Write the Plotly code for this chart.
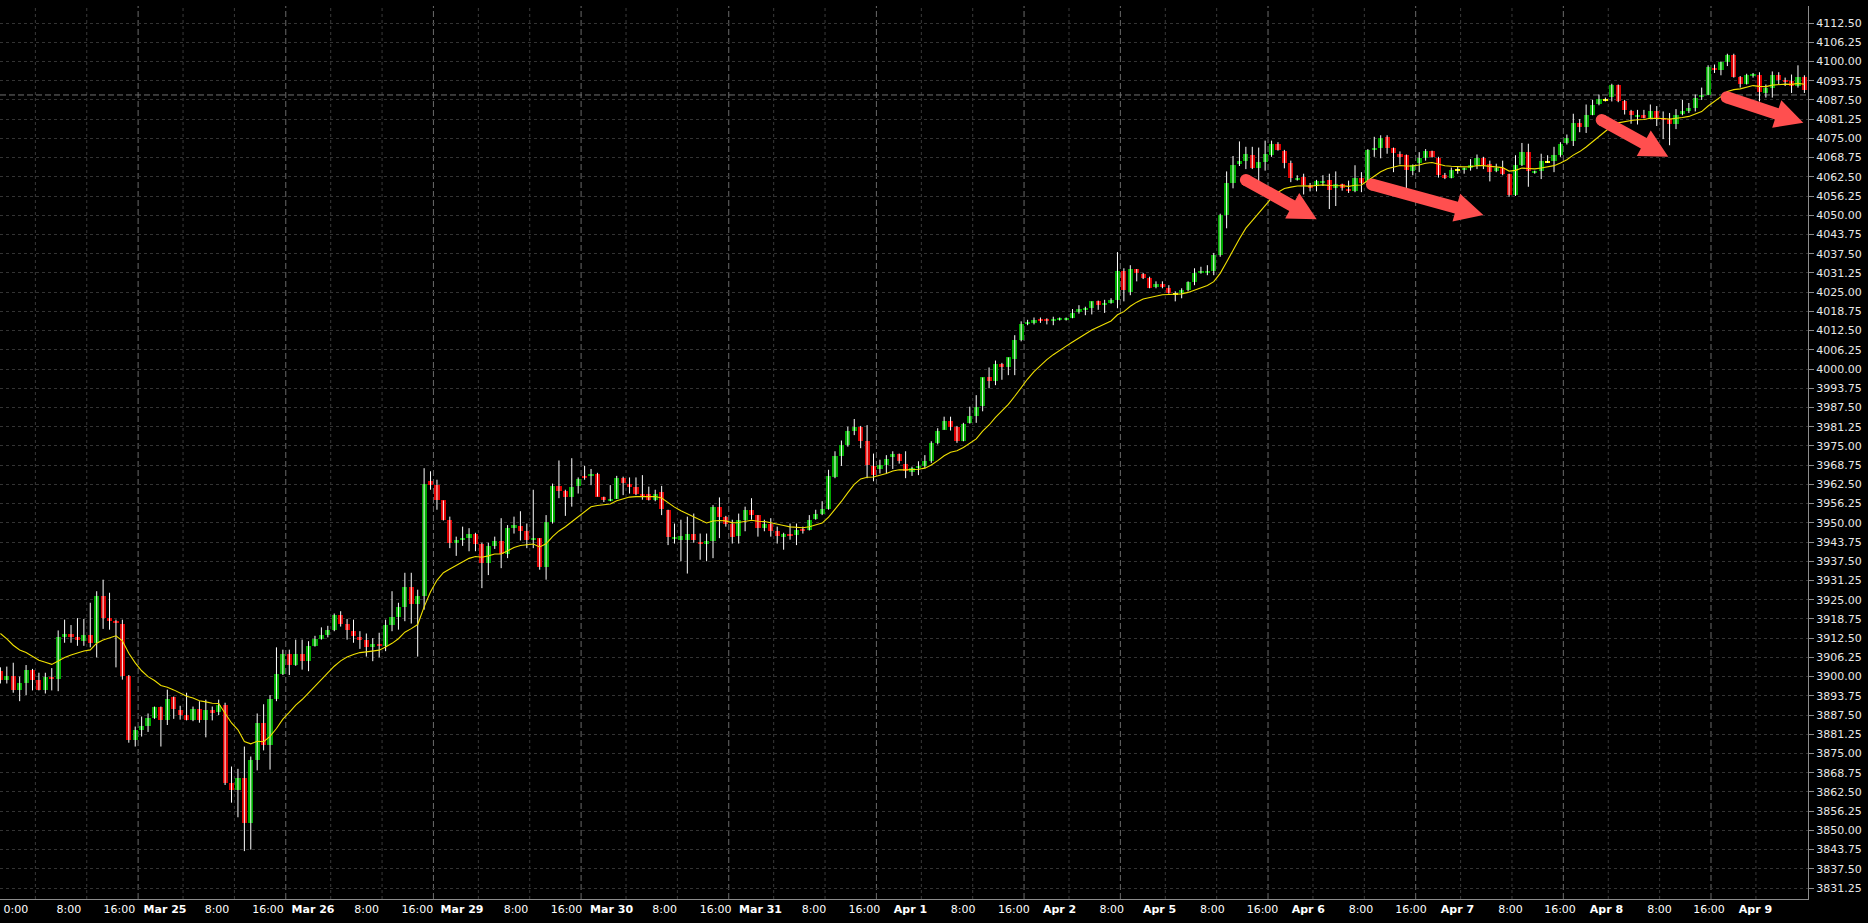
import plotly.graph_objects as go

# ---------------- data (hourly bars, E-mini style) ----------------
opens = [3901.75,3899.0,3900.25,3895.5,3897.75,3902.0,3898.75,3895.75,3900.0,3899.25,
3913.0,3914.0,3912.75,3911.5,3913.5,3911.0,3926.25,3919.0,3918.0,3917.25,
3900.25,3879.25,3882.75,3884.0,3886.5,3890.0,3885.75,3893.25,3889.25,3887.5,
3886.0,3889.5,3885.75,3889.25,3888.5,3890.75,3865.5,3863.0,3867.0,3852.5,
3872.75,3884.75,3877.75,3892.75,3901.0,3907.5,3903.75,3907.5,3905.0,3910.0,
3912.25,3913.5,3915.0,3920.0,3917.25,3914.75,3913.0,3912.0,3909.75,3910.75,
3910.0,3916.75,3919.25,3922.75,3929.25,3923.75,3926.25,3963.5,3962.25,3957.25,
3951.0,3943.5,3944.5,3945.0,3946.25,3943.25,3937.0,3942.5,3944.0,3940.0,
3948.25,3949.0,3947.25,3944.25,3945.0,3935.75,3950.25,3962.0,3960.25,3958.25,
3962.0,3965.25,3965.25,3966.0,3958.5,3957.25,3957.75,3964.5,3962.75,3961.5,
3959.5,3959.25,3957.5,3960.0,3954.25,3945.0,3944.25,3944.25,3946.5,3943.75,
3943.25,3944.0,3955.0,3952.0,3949.75,3945.75,3951.0,3954.0,3952.5,3948.25,
3949.75,3947.25,3945.5,3946.5,3946.0,3948.0,3947.75,3951.25,3953.0,3954.5,
3965.0,3971.75,3975.25,3980.0,3981.0,3976.75,3968.5,3967.5,3968.75,3971.25,
3972.25,3969.25,3966.5,3967.75,3968.5,3970.0,3976.0,3980.25,3983.0,3981.0,
3976.75,3982.5,3984.75,3988.0,3997.25,3996.0,4001.75,4000.75,4003.25,4009.5,
4014.75,4015.0,4016.0,4016.0,4015.75,4016.0,4016.0,4016.75,4018.5,4019.25,
4020.0,4022.0,4021.0,4021.5,4022.5,4031.75,4025.0,4032.5,4031.0,4029.5,
4026.75,4027.5,4026.5,4024.5,4024.75,4025.75,4028.25,4031.25,4031.5,4032.0,
4037.0,4050.0,4060.5,4066.5,4067.75,4069.5,4065.25,4067.25,4069.5,4073.0,
4071.0,4067.0,4061.75,4062.5,4059.75,4059.5,4060.75,4061.5,4058.75,4060.0,
4058.5,4058.0,4062.25,4060.75,4071.25,4071.75,4075.5,4071.75,4069.75,4069.5,
4064.5,4067.0,4068.5,4070.75,4068.75,4063.0,4062.25,4064.75,4065.0,4065.25,
4066.25,4068.5,4066.5,4064.25,4065.25,4063.25,4056.5,4066.25,4070.5,4063.75,
4064.25,4067.5,4067.75,4069.5,4073.5,4074.0,4080.0,4078.75,4082.75,4086.25,
4087.5,4088.5,4092.25,4087.0,4083.75,4082.25,4082.75,4081.75,4084.0,4081.5,
4081.25,4079.75,4083.0,4084.0,4084.75,4088.75,4089.25,4098.0,4097.25,4099.75,
4102.0,4095.0,4092.75,4095.5,4095.75,4089.75,4091.25,4095.75,4094.0,4093.75,
4092.0,4095.0]
highs = [3903.0,3903.25,3904.5,3900.0,3903.75,3902.5,3901.25,3901.25,3902.75,3915.0,
3918.5,3916.75,3919.0,3918.75,3924.0,3927.75,3931.5,3927.25,3918.5,3918.5,
3900.5,3883.75,3887.0,3888.0,3890.25,3890.25,3895.75,3893.5,3890.5,3894.75,
3890.25,3892.0,3892.5,3890.25,3892.5,3891.5,3870.75,3870.0,3877.25,3874.0,
3888.0,3891.0,3894.0,3909.5,3908.75,3908.75,3912.0,3912.0,3911.5,3913.25,
3916.0,3916.5,3920.5,3921.25,3918.75,3918.5,3914.75,3914.0,3912.5,3914.25,
3918.5,3927.75,3924.0,3933.75,3933.75,3928.25,3967.75,3966.75,3964.0,3957.25,
3952.0,3945.5,3948.75,3948.25,3946.75,3943.5,3943.5,3945.5,3951.5,3949.25,
3952.0,3953.75,3949.75,3960.75,3945.0,3952.5,3962.75,3970.25,3960.75,3971.0,
3964.75,3968.5,3967.5,3966.25,3958.5,3962.25,3965.25,3965.0,3964.75,3964.75,
3965.5,3961.75,3960.75,3962.0,3954.25,3949.75,3951.0,3952.0,3953.0,3946.5,
3946.5,3955.75,3958.25,3952.25,3951.0,3953.0,3955.25,3958.0,3952.5,3951.0,
3951.5,3948.75,3946.75,3949.75,3949.75,3948.75,3952.5,3954.25,3957.0,3967.25,
3973.25,3976.75,3981.25,3983.75,3981.5,3981.75,3972.5,3970.5,3972.0,3973.25,
3972.5,3973.25,3968.25,3970.0,3972.0,3976.5,3980.75,3984.5,3984.5,3981.5,
3982.5,3987.75,3991.5,3997.25,4000.5,4002.75,4002.0,4003.75,4011.0,4015.5,
4016.0,4016.75,4016.75,4016.5,4017.0,4016.75,4016.75,4019.5,4020.75,4020.25,
4022.0,4022.25,4022.5,4023.0,4038.0,4032.75,4033.75,4032.5,4031.25,4030.0,
4028.5,4028.5,4027.25,4025.25,4026.25,4028.5,4032.75,4033.25,4033.75,4037.75,
4050.5,4064.25,4069.25,4074.0,4072.25,4072.25,4072.0,4074.25,4074.25,4073.75,
4071.25,4067.75,4063.0,4063.5,4060.5,4061.5,4063.0,4063.5,4064.25,4060.25,
4061.25,4066.25,4064.0,4071.5,4075.5,4076.0,4076.0,4072.0,4070.75,4069.75,
4066.5,4070.5,4071.5,4071.0,4069.0,4063.75,4065.5,4065.75,4065.5,4068.25,
4069.75,4069.0,4067.75,4066.75,4067.75,4063.5,4069.5,4073.5,4073.25,4064.5,
4070.0,4069.5,4072.25,4073.75,4076.25,4083.0,4081.25,4086.0,4087.5,4089.25,
4088.25,4092.75,4092.5,4087.5,4084.25,4084.25,4084.25,4086.0,4085.5,4083.75,
4083.25,4084.5,4087.5,4086.5,4089.25,4091.5,4098.75,4099.0,4100.0,4102.5,
4102.5,4095.25,4096.0,4096.25,4096.5,4092.5,4096.75,4096.5,4094.75,4095.75,
4098.75,4095.5]
lows = [3897.75,3897.75,3894.75,3892.0,3894.0,3895.5,3895.5,3894.5,3895.5,3895.25,
3911.0,3911.0,3910.0,3910.0,3909.5,3906.25,3915.5,3915.25,3903.0,3899.0,
3878.5,3877.25,3880.5,3882.0,3886.25,3877.25,3884.25,3886.25,3886.0,3885.75,
3885.5,3885.0,3880.25,3885.75,3887.5,3864.75,3859.0,3854.25,3843.25,3843.75,
3869.5,3876.0,3869.75,3892.0,3900.5,3900.5,3903.5,3902.25,3901.75,3909.75,
3912.0,3912.75,3914.75,3916.25,3912.0,3911.0,3909.0,3906.5,3905.0,3906.25,
3908.25,3914.75,3915.25,3918.0,3917.25,3906.5,3921.75,3960.75,3954.25,3950.75,
3941.75,3939.25,3942.5,3940.75,3940.75,3928.75,3933.0,3941.5,3935.25,3938.5,
3946.5,3944.25,3941.75,3941.75,3934.75,3931.5,3949.75,3958.0,3952.25,3955.25,
3959.5,3964.0,3962.25,3958.5,3956.75,3957.0,3957.75,3959.0,3959.5,3959.0,
3957.5,3957.25,3957.0,3952.5,3942.75,3943.25,3937.5,3933.5,3943.5,3938.0,
3937.5,3938.5,3945.0,3948.75,3943.25,3943.25,3947.25,3951.0,3945.5,3947.25,
3945.5,3943.25,3941.25,3944.5,3942.75,3946.5,3947.5,3951.0,3952.5,3954.25,
3964.5,3968.5,3974.75,3978.5,3974.25,3964.5,3963.5,3966.0,3966.0,3967.5,
3969.25,3964.5,3965.25,3965.5,3967.75,3969.5,3975.5,3980.25,3980.0,3976.0,
3976.5,3982.25,3982.5,3986.25,3993.75,3994.75,3996.5,3998.0,3998.0,4009.0,
4014.25,4014.5,4015.0,4014.5,4014.25,4015.75,4015.75,4016.5,4018.0,4017.5,
4017.75,4019.25,4018.25,4021.25,4019.75,4022.0,4024.0,4028.5,4029.25,4026.25,
4026.25,4026.25,4024.5,4022.0,4023.0,4025.25,4027.25,4031.0,4030.5,4030.5,
4036.5,4045.75,4058.75,4066.0,4065.0,4065.0,4060.75,4064.5,4069.0,4071.0,
4065.25,4060.75,4061.25,4056.75,4057.75,4057.75,4059.5,4052.0,4053.0,4058.0,
4057.25,4057.5,4057.5,4060.5,4069.0,4068.5,4070.0,4064.0,4066.5,4057.75,
4063.0,4064.0,4067.75,4068.75,4062.25,4061.75,4062.0,4063.5,4063.5,4064.5,
4065.0,4065.0,4061.0,4064.0,4063.0,4056.0,4056.25,4066.0,4059.25,4063.5,
4061.75,4067.0,4064.0,4069.0,4073.0,4072.5,4077.0,4076.75,4082.5,4085.75,
4087.0,4087.0,4086.75,4082.75,4079.75,4079.5,4081.5,4081.25,4079.0,4074.75,
4072.75,4078.0,4082.5,4083.25,4083.75,4087.5,4089.0,4096.25,4095.5,4098.5,
4094.75,4091.5,4092.5,4094.75,4087.0,4088.25,4088.25,4092.5,4092.0,4089.75,
4091.5,4089.75]
closes = [3898.75,3900.25,3895.5,3897.75,3902.0,3898.75,3895.75,3900.0,3899.25,3912.75,
3914.0,3912.75,3911.75,3913.5,3911.0,3926.25,3919.0,3918.0,3917.5,3900.25,
3879.25,3882.5,3884.0,3886.5,3890.0,3885.75,3892.75,3889.5,3887.5,3886.0,
3889.5,3885.75,3889.25,3888.25,3890.75,3865.5,3863.0,3867.0,3852.5,3872.75,
3884.75,3877.75,3892.75,3901.0,3907.5,3903.75,3907.5,3905.0,3910.0,3912.25,
3913.5,3915.0,3920.0,3917.25,3915.0,3913.25,3912.0,3909.75,3910.75,3910.0,
3916.75,3919.25,3922.75,3929.25,3923.75,3926.25,3962.75,3962.25,3957.25,3951.0,
3943.5,3944.5,3945.0,3946.5,3943.25,3937.0,3942.5,3944.0,3940.0,3948.25,
3949.25,3947.25,3944.25,3945.0,3935.5,3950.25,3962.0,3960.25,3958.25,3961.75,
3964.25,3964.75,3966.0,3958.5,3957.5,3957.75,3964.5,3963.0,3961.75,3959.5,
3959.0,3957.5,3959.5,3954.5,3945.25,3945.5,3945.75,3946.25,3944.25,3943.25,
3944.0,3955.0,3952.0,3949.75,3945.5,3950.75,3954.0,3952.5,3948.25,3949.75,
3947.25,3945.75,3946.5,3945.75,3947.75,3947.25,3951.0,3953.0,3954.5,3965.25,
3971.75,3975.25,3980.0,3981.0,3976.75,3968.75,3965.5,3968.75,3970.75,3972.25,
3970.0,3967.0,3967.75,3968.5,3970.25,3976.0,3980.0,3983.0,3981.0,3976.75,
3982.0,3984.75,3987.75,3997.25,3996.0,4001.75,4000.75,4003.75,4009.5,4014.75,
4015.25,4016.0,4015.75,4015.75,4016.0,4016.5,4016.5,4018.25,4019.5,4019.75,
4022.0,4020.75,4021.5,4022.5,4031.75,4025.75,4032.5,4031.25,4029.75,4026.5,
4027.5,4026.75,4024.75,4024.5,4025.75,4028.25,4031.25,4032.0,4032.0,4037.0,
4050.0,4060.5,4066.25,4067.75,4070.0,4065.25,4067.25,4070.0,4073.0,4071.25,
4067.0,4062.25,4062.25,4059.75,4059.0,4061.0,4061.25,4058.25,4060.0,4058.75,
4058.0,4062.25,4060.5,4071.25,4071.75,4075.25,4071.75,4070.25,4069.25,4064.75,
4066.25,4068.5,4070.75,4069.0,4063.0,4062.25,4064.75,4064.75,4065.25,4066.25,
4068.5,4066.25,4064.0,4065.25,4063.25,4056.5,4066.25,4070.5,4064.25,4064.25,
4067.5,4067.5,4069.5,4073.25,4075.25,4080.0,4078.75,4082.75,4086.0,4087.75,
4087.5,4092.25,4087.0,4084.25,4082.75,4082.75,4081.75,4084.0,4081.75,4081.0,
4079.75,4082.75,4084.0,4084.75,4088.25,4089.25,4098.25,4097.25,4099.75,4102.0,
4095.0,4092.75,4095.5,4095.75,4090.0,4091.25,4095.75,4094.0,4093.5,4092.0,
4095.0,4090.75]

# moving average (exponential, 15 bars) seeded with the value read at the first bar
ma_period = 15
ma_seed = 3914.0

# time-axis labels (position in bars) and texts
label_pos = [2.40,10.65,18.54,25.64,33.74,41.68,48.69,57.03,64.95,71.90,80.31,88.18,
             95.20,103.47,111.40,118.40,126.73,134.56,141.76,149.97,157.85,164.98,173.11,
             180.56,188.77,196.59,203.72,211.93,219.72,226.96,235.22,242.93,250.17,258.43,
             266.14,273.38]
label_txt = ["0:00","8:00","16:00","Mar 25","8:00","16:00","Mar 26","8:00","16:00","Mar 29",
             "8:00","16:00","Mar 30","8:00","16:00","Mar 31","8:00","16:00","Apr 1","8:00",
             "16:00","Apr 2","8:00","Apr 5","8:00","16:00","Apr 6","8:00","16:00","Apr 7",
             "8:00","16:00","Apr 8","8:00","16:00","Apr 9"]

# vertical grid lines (bar boundaries) and day separators
grid_bars = [5,13,28,36,51,59,74,82,97,105,120,128,143,151,166,181,189,204,212,227,235,250,258,273]
sep_bars = [21,44,67,90,113,136,159,174,197,220,243,266]

# price line
price_line = 4089.1

# hand-drawn arrows: (tail bar, tail price, tip bar, tip price)
arrows = [(194.0, 4061.45, 205.03, 4048.68),
          (213.64, 4060.0, 230.99, 4050.07),
          (249.42, 4080.96, 259.8, 4069.03),
          (268.89, 4088.34, 280.83, 4080.08)]

# ---------------- figure ----------------
W, H = 1868, 923
ML, MR, MT, MB = 0, 60, 6, 24
PW, PH = W - ML - MR, H - MT - MB
X0, X1 = -0.0623, 281.56
Y0, Y1 = 3827.68, 4118.03

GREEN = "#00a800"
RED = "#dc0000"
DOJI = "#ffff00"
n = len(closes)
idx = list(range(n))

# wicks
wx, wy = [], []
for i in idx:
    wx += [i, i, None]
    wy += [lows[i], highs[i], None]

# bodies
bx, bb, bh, bc = [], [], [], []
for i in idx:
    o, c = opens[i], closes[i]
    lo, hi = min(o, c), max(o, c)
    if hi - lo < 0.01:
        col = DOJI
        lo, hi = o - 0.2, o + 0.2
    else:
        col = GREEN if c > o else RED
        if hi - lo < 0.4:
            mid = (hi + lo) / 2
            lo, hi = mid - 0.2, mid + 0.2
    bx.append(i); bb.append(lo); bh.append(hi - lo); bc.append(col)

# EMA
alpha = 2.0 / (ma_period + 1)
ma = []
prev = ma_seed
for i, c in enumerate(closes):
    if i > 0:
        prev = prev + alpha * (c - prev)
    ma.append(prev)

fig = go.Figure()
fig.add_trace(go.Scatter(x=wx, y=wy, mode="lines", line=dict(color="#ffffff", width=1),
                         hoverinfo="skip", showlegend=False))
fig.add_trace(go.Bar(x=bx, y=bh, base=bb, width=0.8,
                     marker=dict(color=bc, line=dict(width=0)), showlegend=False))
fig.add_trace(go.Scatter(x=idx, y=ma, mode="lines", line=dict(color="#f0e000", width=1.1),
                         showlegend=False))

shapes = []
for g in grid_bars:
    shapes.append(dict(type="line", xref="x", yref="paper", x0=g + 0.45, x1=g + 0.45, y0=0, y1=1,
                       line=dict(color="#3a3a3a", width=1, dash="3px,3px"), layer="below"))
for g in sep_bars:
    shapes.append(dict(type="line", xref="x", yref="paper", x0=g + 0.45, x1=g + 0.45, y0=0, y1=1,
                       line=dict(color="#6a6a6a", width=1, dash="6px,3px"), layer="below"))
shapes.append(dict(type="line", xref="paper", yref="y", x0=0, x1=1, y0=price_line, y1=price_line,
                   line=dict(color="#707070", width=1, dash="6px,3px"), layer="below"))

# arrows drawn in pixel geometry then mapped back to data space
def to_px(xv, yv):
    return (xv - X0) / (X1 - X0) * PW, (Y1 - yv) / (Y1 - Y0) * PH

def to_data(px, py):
    return X0 + px / PW * (X1 - X0), Y1 - py / PH * (Y1 - Y0)

ARROW = "#ff4f4f"
for (tx, ty, hx, hy) in arrows:
    ax, ay = to_px(tx, ty)
    bx_, by_ = to_px(hx, hy)
    dx, dy = bx_ - ax, by_ - ay
    L = (dx * dx + dy * dy) ** 0.5
    ux, uy = dx / L, dy / L
    nx, ny = -uy, ux
    hl, hw, sw = 28.0, 14.5, 6.0
    cx, cy = bx_ - hl * ux, by_ - hl * uy
    pts = [(ax + sw * nx, ay + sw * ny), (cx + sw * nx, cy + sw * ny), (cx + hw * nx, cy + hw * ny),
           (bx_, by_), (cx - hw * nx, cy - hw * ny), (cx - sw * nx, cy - sw * ny),
           (ax - sw * nx, ay - sw * ny)]
    d = "M " + " L ".join("%f,%f" % to_data(px, py) for px, py in pts) + " Z"
    shapes.append(dict(type="path", path=d, xref="x", yref="y", fillcolor=ARROW,
                       line=dict(width=0), layer="above"))
    c0 = to_data(ax - sw, ay - sw)
    c1 = to_data(ax + sw, ay + sw)
    shapes.append(dict(type="circle", xref="x", yref="y", x0=c0[0], x1=c1[0], y0=c0[1], y1=c1[1],
                       fillcolor=ARROW, line=dict(width=0), layer="above"))

yt = [3831.25 + 6.25 * k for k in range(46)]
fig.update_layout(
    width=W, height=H, margin=dict(l=ML, r=MR, t=MT, b=MB),
    paper_bgcolor="#000000", plot_bgcolor="#000000",
    bargap=0, barmode="overlay", showlegend=False, shapes=shapes,
    font=dict(family="DejaVu Sans", size=11, color="#ffffff"),
    xaxis=dict(range=[X0, X1], tickmode="array", tickvals=label_pos,
               ticktext=[("<b>%s</b>" % t) if t[0].isalpha() else t for t in label_txt],
               showgrid=False, zeroline=False, showline=True, linecolor="#8c8c8c", linewidth=1,
               ticks="", tickfont=dict(family="DejaVu Sans", size=11, color="#ffffff"),
               fixedrange=True),
    yaxis=dict(range=[Y0, Y1], side="right", tickmode="array", tickvals=yt,
               ticktext=["%.2f" % v for v in yt], showgrid=True, gridcolor="#333333",
               griddash="3px,3px", gridwidth=1, zeroline=False, showline=True,
               linecolor="#8c8c8c", linewidth=1, ticks="outside", ticklen=5, tickcolor="#8c8c8c",
               tickfont=dict(family="DejaVu Sans", size=11, color="#e8e8e8"), fixedrange=True),
)
fig.write_html("out.html", config={"displayModeBar": False},
               post_script="document.body.style.margin='0';document.body.style.background='#000';")
